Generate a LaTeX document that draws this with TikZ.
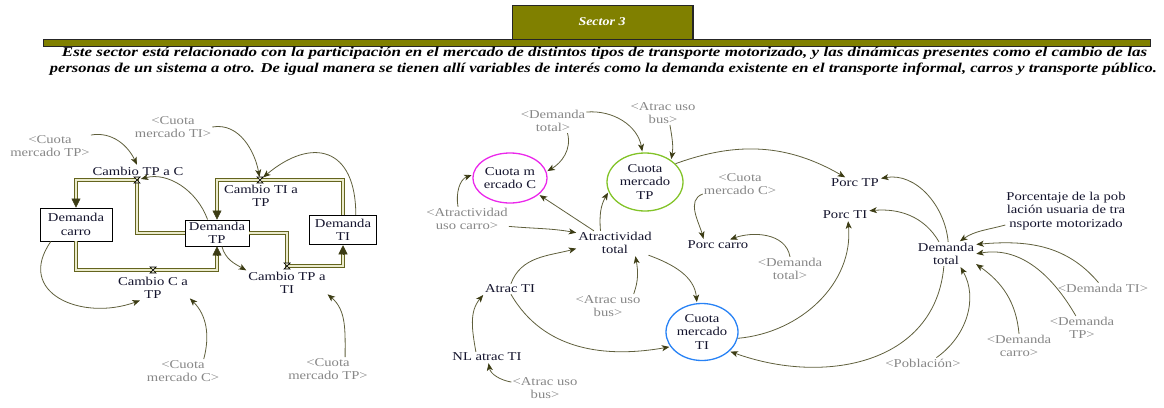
\documentclass[tikz,border=0pt]{standalone}
\usepackage{fontspec}
\setmainfont{Liberation Serif}
\newfontfamily\dfont[FakeStretch=1.22]{Liberation Serif}
\usetikzlibrary{arrows.meta,shapes.geometric,calc}

\definecolor{olivebar}{RGB}{128,128,0}
\definecolor{linkc}{RGB}{95,95,60}
\definecolor{tipc}{RGB}{60,60,20}
\definecolor{shadowtxt}{RGB}{135,135,135}
\definecolor{vartxt}{RGB}{20,20,45}
\definecolor{pipec}{RGB}{100,100,30}
\definecolor{pipein}{RGB}{235,235,205}
\definecolor{cmag}{RGB}{235,40,235}
\definecolor{cgreen}{RGB}{130,195,40}
\definecolor{cblue}{RGB}{40,130,245}

\tikzset{
  var/.style={font=\dfont\fontsize{12}{13.5}\selectfont, text=vartxt, align=center, inner sep=1pt},
  shadowvar/.style={var, text=shadowtxt},
  stock/.style={var, draw=black, line width=0.9pt, fill=white, inner sep=0pt},
  aux/.style={var, ellipse, line width=1.3pt, inner sep=0pt},
  link/.style={draw=linkc, line width=0.8pt, shorten >=1pt,
    -{Stealth[length=7.5pt,width=6pt,inset=2pt,color=tipc]}},
  pipe/.style={draw=pipec, line width=0.7pt, double=pipein, double distance=2.2pt, shorten >=8pt},
  pipehead/.style={draw=tipc, line width=0.4pt, -{Triangle[length=9pt,width=9pt,color=tipc]}},
  valve/.style={draw=black, line width=0.7pt, fill=pipein},
  headtxt/.style={font=\fontsize{13.5}{16}\selectfont\bfseries\itshape, inner sep=0pt, anchor=base}
}

\begin{document}
\begin{tikzpicture}[x=1pt,y=1pt]
\useasboundingbox (0,0) rectangle (1164,-407);

% ---------- header ----------
\filldraw[fill=olivebar, draw=black!85, line width=0.6pt] (512,-5) rectangle (693,-39);
\draw[black!85, line width=1.3pt] (693,-5) -- (693,-39);
\node[font=\fontsize{12}{14}\selectfont\bfseries\itshape, text=white, inner sep=0pt] (sector) at (602,-22)
  {\resizebox{47pt}{\height}{Sector 3}};
\filldraw[fill=olivebar, draw=black!85, line width=0.6pt] (43,-39) rectangle (1150,-46);
\node[headtxt] (intro1) at (604.5,-56.5) {\resizebox{1085pt}{\height}{Este sector está relacionado con la participación en el mercado de distintos tipos de transporte motorizado, y las dinámicas presentes como el cambio de las}};
\node[headtxt] (intro2) at (603.5,-72.5) {\resizebox{1107pt}{\height}{personas de un sistema a otro. De igual manera se tienen allí variables de interés como la demanda existente en el transporte informal, carros y transporte público.}};

% ---------- stocks and flows ----------
\coordinate (v1) at (137,-180);
\coordinate (v2) at (260,-180);
\coordinate (v3) at (287,-266);
\coordinate (v4) at (153,-270);

\node[stock, minimum width=72pt, minimum height=33pt] (DC) at (76,-224.5) {Demanda\\carro};
\node[stock, minimum width=64pt, minimum height=26pt] (DTP) at (217,-233) {Demanda\\TP};
\node[stock, line width=1.5pt, minimum width=67pt, minimum height=29pt] (DTI) at (343,-230) {Demanda\\TI};

% pipes
\draw[pipe] (DTP.west) -| (v1) -| (DC.north);
\draw[pipehead] ($(DC.north)+(0,9)$) -- (DC.north);
\draw[pipe] (DTI.north) |- (v2) -| (DTP.north);
\draw[pipehead] ($(DTP.north)+(0,9)$) -- (DTP.north);
\draw[pipe] (DTP.east) -| (v3) -| (DTI.south);
\draw[pipehead] ($(DTI.south)+(0,-9)$) -- (DTI.south);
\draw[pipe] (DC.south) |- (v4) -| (DTP.south);
\draw[pipehead] ($(DTP.south)+(0,-9)$) -- (DTP.south);

% valves
\foreach \v in {v1,v2,v3,v4}
  \draw[valve, shift={(\v)}] (-3,3) -- (3,3) -- (-3,-3) -- (3,-3) -- cycle;

% flow names
\node[var] (l1) at (138,-171) {Cambio TP a C};
\node[var] (l2) at (261,-196) {Cambio TI a\\TP};
\node[var] (l3) at (287,-283) {Cambio TP a\\TI};
\node[var] (l4) at (153,-288) {Cambio C a\\TP};

% shadow variables, left
\node[shadowvar] (s1) at (50,-146) {<Cuota\\mercado TP>};
\node[shadowvar] (s2) at (173,-127) {<Cuota\\mercado TI>};
\node[shadowvar] (s3) at (183,-371) {<Cuota\\mercado C>};
\node[shadowvar] (s4) at (328,-369) {<Cuota\\mercado TP>};

% links, left
\draw[link] (s1.15) to[out=10,in=115] (l1.97);
\draw[link, shorten >=3pt] (s2.east) to[out=10,in=100] (v2);
\draw[link, shorten >=4pt] (DTI.50) to[out=90,in=40,looseness=1.7] (v2);
\draw[link, shorten >=4pt] (DTP.125) to[out=110,in=15] (v1);
\draw[link] (DTP.-70) to[out=-75,in=150] (l3.north west);
\draw[link] (DC.-146) to[out=235,in=200,looseness=1.5] (l4.-135);
\draw[link] (s3.30) to[out=75,in=-45] (l4.-15);
\draw[link] (s4.35) to[out=90,in=-40] (l3.-15);

% ---------- market share sector ----------
\node[aux, draw=cmag, minimum width=73pt, minimum height=50pt] (CMC) at (510,-178) {Cuota m\\ercado C};
\node[aux, draw=cgreen, minimum width=76pt, minimum height=58pt] (CMTP) at (645,-182) {Cuota\\mercado\\TP};
\node[aux, draw=cblue, minimum width=72pt, minimum height=57pt] (CMTI) at (702,-332) {Cuota\\mercado\\TI};

\node[var] (AT) at (615,-243) {Atractividad\\total};
\node[var] (PC) at (718,-245) {Porc carro};
\node[var] (ATI) at (510,-289) {Atrac TI};
\node[var] (NL) at (487,-357) {NL atrac TI};
\node[var] (PTP) at (855,-183) {Porc TP};
\node[var] (PTI) at (845,-215) {Porc TI};
\node[var] (DT) at (946,-254) {Demanda\\total};
\node[var] (PCT) at (1066,-211) {Porcentaje de la pob\\lación usuaria de tra\\nsporte motorizado};

\node[shadowvar] (sAUC) at (467,-219) {<Atractividad\\uso carro>};
\node[shadowvar] (sDT1) at (553,-121) {<Demanda\\total>};
\node[shadowvar] (sAUB1) at (663,-113) {<Atrac uso\\bus>};
\node[shadowvar] (sCMC) at (740,-184) {<Cuota\\mercado C>};
\node[shadowvar] (sDT2) at (790,-269) {<Demanda\\total>};
\node[shadowvar] (sAUB2) at (608,-306) {<Atrac uso\\bus>};
\node[shadowvar] (sAUB3) at (545,-388) {<Atrac uso\\bus>};
\node[shadowvar] (sDTI) at (1103,-288) {<Demanda TI>};
\node[shadowvar] (sDTP) at (1082,-328) {<Demanda\\TP>};
\node[shadowvar] (sDC) at (1019,-346) {<Demanda\\carro>};
\node[shadowvar] (sPob) at (923,-363) {<Población>};

% links, right
\draw[link] (sDT1.-40) to[out=-75,in=30] (CMC.10);
\draw[link] (sDT1.15) to[out=5,in=100] (CMTP.95);
\draw[link] (sAUB1.-60) to[out=-80,in=80] (CMTP.40);
\draw[link] ([xshift=-9pt]sAUC.north) to[out=100,in=200] (CMC.175);
\draw[link] (sAUC.-10) to[out=-5,in=170] (AT.165);
\draw[link] (AT.150) -- (CMC.-30);
\draw[link] (AT.140) to[out=95,in=-120] (CMTP.-165);
\draw[link] (AT.-20) to[out=-20,in=95] (CMTI.100);
\draw[link] (sAUB2.25) to[out=70,in=-80] (AT.-31);
\draw[link] (ATI.80) to[out=70,in=195] (AT.-172);
\draw[link] (ATI.-80) to[out=-60,in=190] (CMTI.-155);
\draw[link] (NL.155) to[out=100,in=-130] (ATI.south west);
\draw[link] (sAUB3.170) to[out=170,in=-80] (NL.-75);
\draw[link] (sCMC.195) to[out=200,in=105] (PC.160);
\draw[link] (sDT2.north) to[out=100,in=20] (PC.25);
\draw[link] (CMTP.31) to[out=20,in=150] (PTP.150);
\draw[link] (CMTI.-10) to[out=5,in=-85] (PTI.-60);
\draw[link] (DT.80) to[out=95,in=10] (PTP.10);
\draw[link] (DT.120) to[out=120,in=5] (PTI.10);
\draw[link] (DT.-100) to[out=-95,in=-20,looseness=1.1] (CMTI.-35);
\draw[link] (PCT.193) to[out=195,in=35] (DT.43);
\draw[link] (sDTI.130) to[out=130,in=5] (DT.18);
\draw[link] (sDTP.117) to[out=120,in=10] (DT.0);
\draw[link] (sDC.north) to[out=95,in=-35] (DT.-18);
\draw[link] (sPob.22) to[out=35,in=-60] (DT.-41);

\end{tikzpicture}
\end{document}
